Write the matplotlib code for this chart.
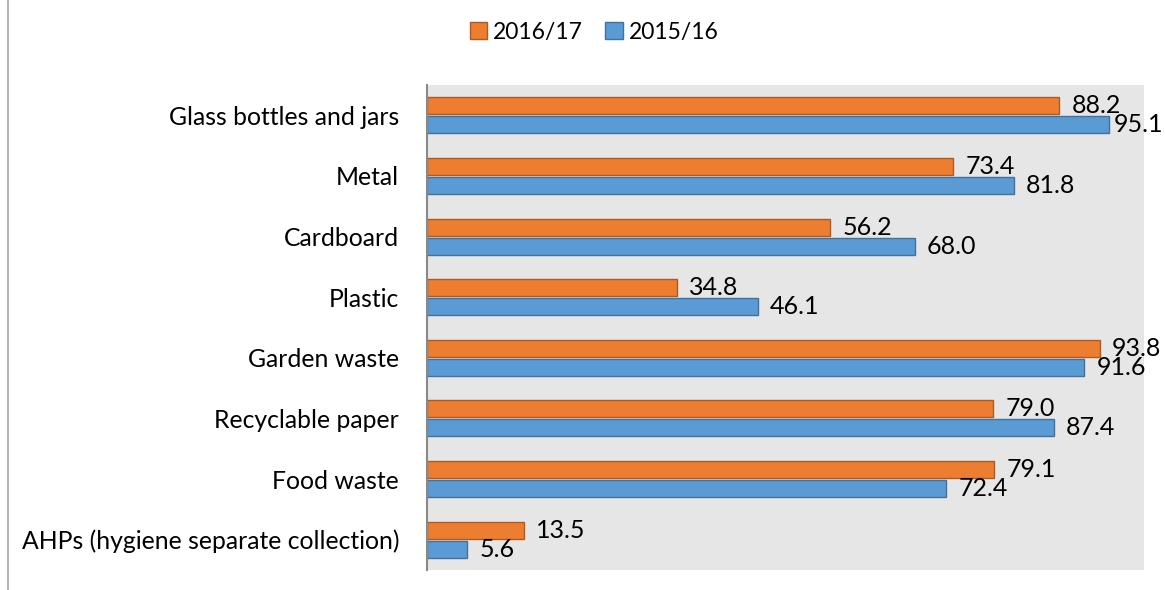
import matplotlib
matplotlib.use("Agg")
import matplotlib.pyplot as plt
import numpy as np
from matplotlib.lines import Line2D

categories = ["Glass bottles and jars", "Metal", "Cardboard", "Plastic",
              "Garden waste", "Recyclable paper", "Food waste",
              "AHPs (hygiene separate collection)"]
series_names = ["2016/17", "2015/16"]
values_1617 = [88.2, 73.4, 56.2, 34.8, 93.8, 79.0, 79.1, 13.5]
values_1516 = [95.1, 81.8, 68.0, 46.1, 91.6, 87.4, 72.4, 5.6]

plt.rcParams['font.family'] = ['Lato', 'DejaVu Sans']

fig = plt.figure(figsize=(11.65, 5.9), dpi=100)
ax = fig.add_axes([427/1165, 1-570/590, (1144-427)/1165, (570-85)/590])
ax.set_facecolor('#E7E6E6')

n = len(categories)
y = np.arange(n)
h = 0.28
gap = 0.035
orange = '#ED7D31'
blue = '#5B9BD5'
b1 = ax.barh(y - h/2 - gap/2, values_1617, height=h, color=orange,
             edgecolor='#AE5A21', linewidth=1.0, label=series_names[0])
b2 = ax.barh(y + h/2 + gap/2, values_1516, height=h, color=blue,
             edgecolor='#41719C', linewidth=1.0, label=series_names[1])

labels = []
for bars, vals in ((b1, values_1617), (b2, values_1516)):
    for bar, v in zip(bars, vals):
        t = ax.annotate(f"{v:.1f}", (bar.get_width(), bar.get_y() + bar.get_height()/2),
                        xytext=(9, 0), textcoords='offset points',
                        va='center', ha='left', fontsize=18, color='#000000')
        labels.append(t)

ax.set_xlim(0, 100)
ax.set_ylim(n - 0.5, -0.5)
ax.set_yticks(y)
ax.set_yticklabels(categories, fontsize=17.8)
ax.set_xticks([])
ax.tick_params(axis='y', length=0, pad=20)
for s in ('top', 'right', 'bottom'):
    ax.spines[s].set_visible(False)
ax.spines['left'].set_color('#898989')
ax.spines['left'].set_linewidth(1.5)

handles = [plt.Rectangle((0, 0), 1, 1, facecolor=orange, edgecolor='#AE5A21'),
           plt.Rectangle((0, 0), 1, 1, facecolor=blue, edgecolor='#41719C')]
fig.legend(handles, series_names, loc='center', bbox_to_anchor=(594/1165, 1-32/590),
           ncol=2, frameon=False, fontsize=16.5, handlelength=0.75, handleheight=0.75,
           handletextpad=0.25, columnspacing=1.0)

fig.add_artist(Line2D([8/1165, 8/1165], [0, 1], transform=fig.transFigure,
                      color='#A6A6A6', linewidth=1.2))

# keep value labels inside the figure (shift left like Excel does)
fig.canvas.draw()
renderer = fig.canvas.get_renderer()
W = fig.bbox.width
for t in labels:
    bb = t.get_window_extent(renderer)
    if bb.x1 > W - 2:
        dx_px = bb.x1 - (W - 2)
        ox, oy = t.xyann
        t.xyann = (ox - dx_px * 72 / fig.dpi, oy)

fig.savefig("out.png", dpi=100)
